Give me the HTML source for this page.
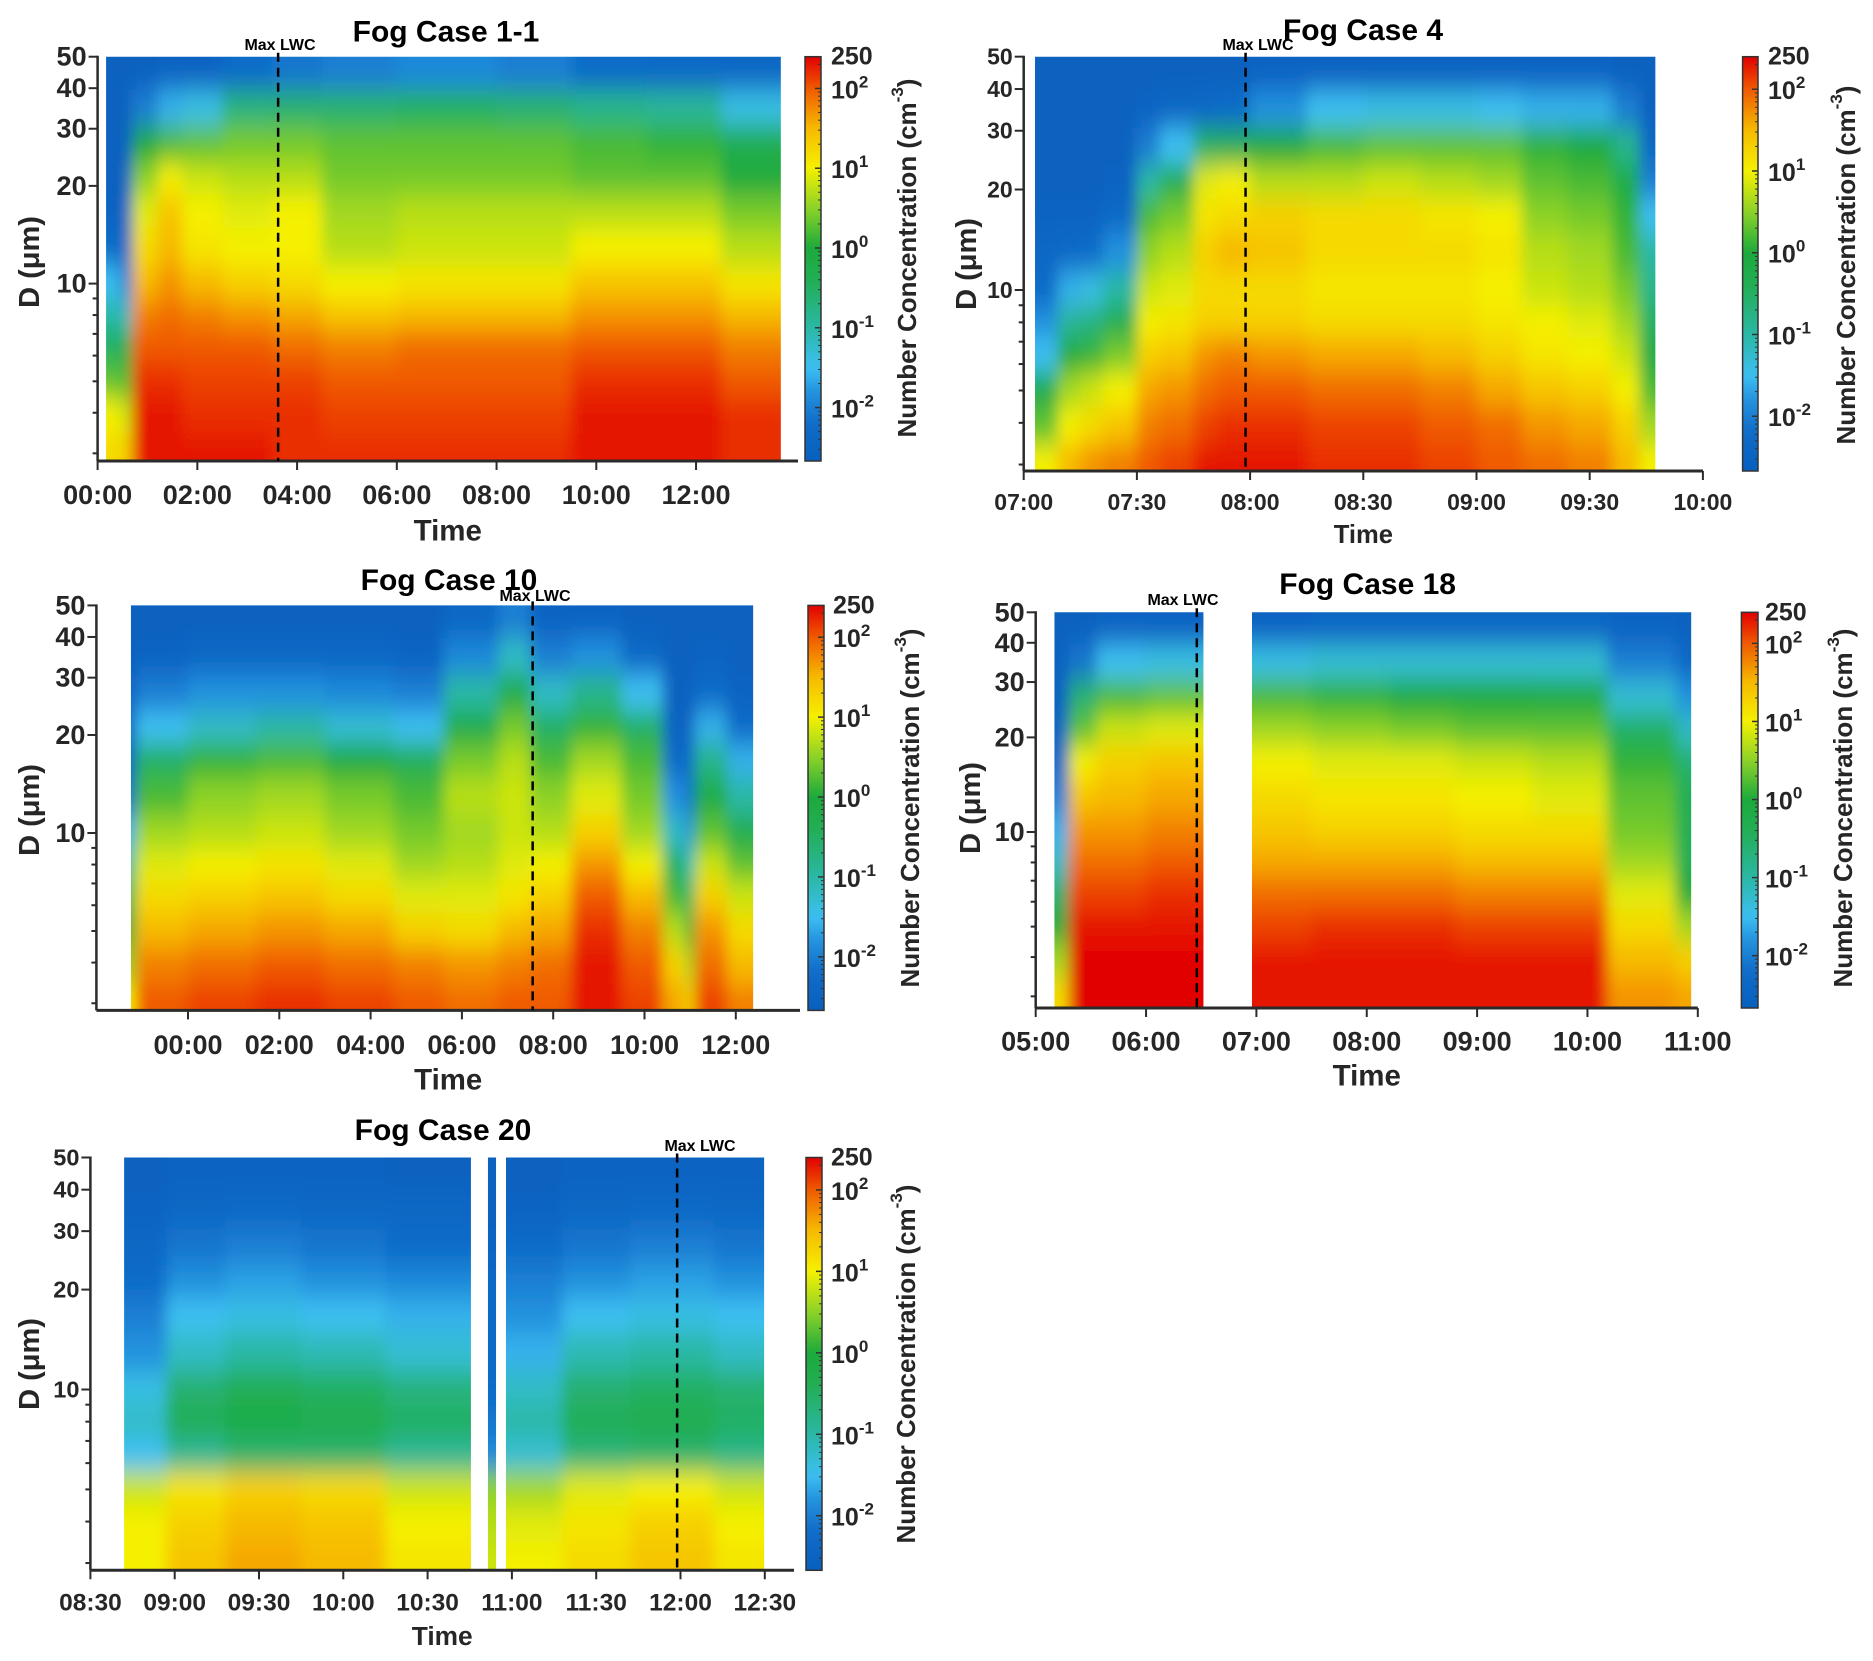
<!DOCTYPE html>
<html><head><meta charset="utf-8"><style>
html,body{margin:0;padding:0;background:#fff;}
svg{display:block;font-family:"Liberation Sans",Arial,sans-serif;}
</style></head><body>
<svg id="fig" width="1873" height="1661" viewBox="0 0 1873 1661" xmlns="http://www.w3.org/2000/svg">
<defs id="defs"></defs>
</svg>
<script>
// ---- Data ----
const dNodes = [3, 4, 5, 6.5, 8, 10, 13, 17, 21, 27, 35, 45];
const cbarTickLogs = [2, 1, 0, -1, -2];
const yTickMajor = [10, 20, 30, 40, 50];
const yTickMinor = [3, 4, 5, 6, 7, 8, 9];

const case1Times = [0.17, 0.45, 0.7, 1.2, 1.7, 2.5, 3.5, 4.5, 6, 8, 9.5, 11, 12.5, 13.7];
const case1Values = [
 [1.2,1.0,0.3,-0.5,-1.0,-1.5,-2.2,-2.5,-2.6,-2.6,-2.6,-2.6],
 [1.3,0.8,0.2,-0.3,-1.2,-2.0,-2.3,-2.5,-2.6,-2.6,-2.6,-2.6],
 [2.3,2.3,2.2,2.0,1.8,1.5,1.2,0.9,0.5,0.0,-2.0,-2.6],
 [2.3,2.3,2.2,2.0,1.9,1.7,1.5,1.4,1.0,0.2,-1.6,-2.5],
 [2.3,2.2,2.1,2.0,1.8,1.5,1.1,1.0,0.8,0.3,-1.4,-2.5],
 [2.3,2.2,2.1,2.0,1.7,1.3,1.0,0.9,0.7,0.4,-0.7,-2.2],
 [2.2,2.2,2.1,1.9,1.6,1.2,1.0,1.0,0.7,0.4,-0.6,-2.1],
 [2.2,2.1,2.0,1.8,1.4,1.0,0.7,0.6,0.4,0.3,-0.6,-2.0],
 [2.2,2.1,2.0,1.9,1.5,1.1,0.8,0.7,0.4,0.3,-0.5,-1.9],
 [2.2,2.1,2.0,1.9,1.5,1.1,0.8,0.7,0.4,0.3,-0.6,-2.0],
 [2.3,2.3,2.2,2.0,1.7,1.4,1.0,0.7,0.3,0.2,-0.8,-2.2],
 [2.3,2.3,2.2,2.0,1.7,1.4,1.0,0.7,0.3,0.1,-0.9,-2.3],
 [2.2,2.2,2.0,1.8,1.5,1.1,0.7,0.4,0.0,-0.3,-1.4,-2.4]
];
const case4Times = [7.05, 7.15, 7.25, 7.35, 7.5, 7.6, 7.75, 7.85, 8.0, 8.25, 8.5, 8.75, 9.0, 9.2, 9.4, 9.6, 9.72, 9.79];
const case4Values = [
 [1.0,0.3,-0.2,-1.5,-1.8,-2.2,-2.4,-2.5,-2.6,-2.6,-2.6,-2.6],
 [1.5,1.0,0.6,0.0,-0.9,-1.6,-2.3,-2.5,-2.6,-2.6,-2.6,-2.6],
 [1.7,1.2,0.8,0.1,-0.7,-1.4,-2.2,-2.5,-2.6,-2.6,-2.6,-2.6],
 [1.8,1.4,1.0,0.4,-0.3,-1.0,-1.8,-2.3,-2.5,-2.6,-2.6,-2.6],
 [2.0,1.8,1.6,1.3,1.0,0.8,0.5,0.2,-1.0,-2.0,-2.5,-2.6],
 [2.1,1.9,1.7,1.4,1.1,0.9,0.7,0.4,-0.3,-1.5,-2.4,-2.6],
 [2.3,2.1,1.9,1.7,1.3,1.2,1.3,1.1,0.9,-0.5,-2.3,-2.6],
 [2.3,2.2,2.0,1.8,1.3,1.2,1.5,1.2,1.0,-0.4,-2.2,-2.6],
 [2.3,2.2,2.0,1.7,1.3,1.2,1.4,1.3,0.7,0.0,-1.8,-2.5],
 [2.2,2.1,1.9,1.6,1.2,1.1,1.2,1.2,0.7,0.2,-1.5,-2.5],
 [2.2,2.1,1.9,1.6,1.2,1.1,1.2,1.2,0.8,0.3,-1.4,-2.5],
 [2.1,2.0,1.8,1.5,1.2,1.1,1.2,1.1,0.7,0.3,-1.4,-2.5],
 [2.0,1.9,1.6,1.3,1.1,1.0,1.1,1.0,0.6,0.3,-1.5,-2.5],
 [1.9,1.7,1.4,1.1,1.0,0.8,0.7,0.5,0.3,0.1,-1.6,-2.5],
 [1.8,1.6,1.3,1.0,0.9,0.7,0.6,0.4,0.2,0.0,-1.6,-2.5],
 [1.5,1.3,1.0,0.8,0.6,0.4,0.2,0.1,-0.2,-0.8,-2.0,-2.6],
 [1.0,0.6,0.2,-0.2,-0.5,-0.8,-1.0,-1.5,-2.0,-2.4,-2.6,-2.6]
];
const case10Times = [-1.25, -1.15, 0, 1.5, 3, 4.5, 5.6, 6.8, 7.5, 8.4, 9.5, 10.4, 10.9, 11.1, 11.8, 12.38];
const case10Values = [
 [1.0,0.5,0.0,-0.5,-1.0,-1.6,-2.2,-2.5,-2.6,-2.6,-2.6,-2.6],
 [2.0,1.8,1.5,1.2,0.9,0.6,0.2,-0.5,-1.5,-2.0,-2.5,-2.6],
 [2.1,1.9,1.6,1.3,1.0,0.7,0.5,0.1,-1.2,-1.8,-2.4,-2.6],
 [2.2,2.0,1.7,1.4,1.1,0.8,0.6,0.2,-1.0,-1.8,-2.4,-2.6],
 [2.1,1.9,1.6,1.2,0.9,0.6,0.4,0.0,-1.3,-1.9,-2.4,-2.6],
 [2.0,1.8,1.3,0.9,0.6,0.4,0.2,-0.4,-1.5,-2.0,-2.5,-2.6],
 [1.9,1.7,1.2,0.9,0.7,0.6,0.7,0.4,-0.2,-1.0,-1.9,-2.4],
 [2.0,1.8,1.5,1.1,0.9,0.8,0.8,0.7,0.4,-0.2,-1.2,-2.0],
 [2.0,1.9,1.6,1.3,1.0,0.7,0.5,0.2,-0.5,-1.2,-2.0,-2.5],
 [2.3,2.3,2.2,2.0,1.7,1.3,0.9,0.6,0.1,-0.8,-1.8,-2.5],
 [2.1,2.0,1.8,1.5,1.0,0.6,0.4,0.2,-0.5,-1.5,-2.3,-2.6],
 [1.6,1.3,0.7,0.2,-0.5,-1.2,-1.8,-2.2,-2.5,-2.6,-2.6,-2.6],
 [1.2,0.6,0.0,-0.6,-1.2,-1.8,-2.2,-2.4,-2.6,-2.6,-2.6,-2.6],
 [2.1,1.9,1.7,1.3,0.8,0.3,-0.2,-0.8,-1.6,-2.2,-2.5,-2.6],
 [1.8,1.5,1.2,0.8,0.3,-0.3,-1.0,-1.6,-2.2,-2.5,-2.6,-2.6]
];
const case18Times = [5.17, 5.3, 5.55, 6.0, 6.52, 6.96, 7.5, 8.2, 8.8, 9.5, 10.18, 10.8, 10.94];
const case18Values = [
 [1.2,0.6,0.0,-0.6,-1.2,-1.6,-2.0,-2.3,-2.5,-2.6,-2.6,-2.6],
 [2.4,2.4,2.3,2.1,1.9,1.7,1.4,1.0,0.3,-0.6,-2.1,-2.6],
 [2.4,2.4,2.3,2.1,1.9,1.7,1.5,1.3,0.8,0.2,-1.5,-2.5],
 [2.4,2.4,2.3,2.2,2.0,1.8,1.6,1.4,0.9,0.3,-1.4,-2.5],
 null,
 [2.3,2.3,2.1,1.9,1.6,1.4,1.2,1.0,0.6,0.2,-1.4,-2.5],
 [2.3,2.3,2.2,1.9,1.6,1.3,1.1,0.9,0.5,0.1,-1.3,-2.4],
 [2.3,2.3,2.2,1.9,1.6,1.3,1.1,0.9,0.4,0.0,-1.3,-2.4],
 [2.3,2.3,2.1,1.8,1.5,1.2,1.0,0.8,0.3,0.0,-1.3,-2.4],
 [2.3,2.3,2.1,1.8,1.5,1.2,0.9,0.7,0.3,-0.1,-1.3,-2.4],
 [1.7,1.5,1.2,0.9,0.6,0.4,0.3,0.1,-0.5,-1.3,-2.0,-2.5],
 [1.6,1.3,0.6,0.0,-0.4,-0.4,-0.4,-0.6,-1.2,-1.8,-2.3,-2.6]
];
const case20Times = [8.70, 8.95, 9.3, 9.75, 10.25, 10.757, 10.858, 10.906, 10.965, 11.3, 11.7, 12.2, 12.496];
const case20Values = [
 [1.0,1.0,0.8,-1.5,-1.2,-1.4,-1.8,-2.0,-2.2,-2.4,-2.5,-2.6],
 [1.4,1.3,1.1,-0.9,-0.4,-0.6,-1.2,-1.5,-1.8,-2.1,-2.4,-2.5],
 [1.6,1.5,1.3,-0.6,-0.2,-0.4,-1.0,-1.4,-1.7,-2.0,-2.3,-2.5],
 [1.5,1.4,1.2,-0.6,-0.3,-0.5,-1.1,-1.5,-1.8,-2.1,-2.4,-2.5],
 [1.1,1.0,0.8,-0.9,-0.5,-0.7,-1.3,-1.6,-1.9,-2.2,-2.4,-2.6],
 null,
 [0.8,0.7,0.5,-1.9,-2.1,-2.2,-2.3,-2.3,-2.3,-2.5,-2.6,-2.6],
 null,
 [1.0,0.9,0.6,-1.3,-1.0,-1.2,-1.6,-1.8,-2.0,-2.2,-2.5,-2.6],
 [1.2,1.1,0.9,-0.7,-0.4,-0.6,-1.1,-1.5,-1.8,-2.1,-2.4,-2.5],
 [1.4,1.3,1.0,-0.6,-0.3,-0.5,-1.0,-1.4,-1.7,-2.0,-2.3,-2.5],
 [1.1,1.0,0.8,-0.8,-0.5,-0.6,-1.2,-1.5,-1.8,-2.1,-2.4,-2.5]
];
const case1Ticks = [0,2,4,6,8,10,12];
const case4Ticks = [7,7.5,8,8.5,9,9.5,10];
const case10Ticks = [0,2,4,6,8,10,12];
const case18Ticks = [5,6,7,8,9,10,11];
const case20Ticks = [8.5,9,9.5,10,10.5,11,11.5,12,12.5];
const case1MaxLWC = 3.62, case4MaxLWC = 7.98, case10MaxLWC = 7.55, case18MaxLWC = 6.46, case20MaxLWC = 11.98;

// ---- Rendering ----
const NS = "http://www.w3.org/2000/svg";
const svg = document.getElementById('fig');
const defs = document.getElementById('defs');
const CMIN = -2.67, CMAX = Math.log10(250);
const stops = [[-2.67,[8,96,190]],[-2.2,[16,108,200]],[-1.8,[36,146,222]],[-1.5,[60,192,242]],[-1.0,[42,184,165]],[-0.4,[34,174,84]],[0,[28,170,60]],[0.5,[140,210,40]],[1.0,[245,240,0]],[1.5,[246,186,0]],[2.0,[240,90,0]],[2.4,[225,0,0]]];
function cmap(v){
  v=Math.max(CMIN,Math.min(2.4,v));
  for(let i=1;i<stops.length;i++){ if(v<=stops[i][0]){ const a=stops[i-1],b=stops[i]; const f=(v-a[0])/(b[0]-a[0]);
    return 'rgb('+a[1].map((c,k)=>Math.round(c+(b[1][k]-c)*f)).join(',')+')'; } }
  return 'rgb(225,0,0)';
}
function el(tag, attrs, parent){ const e=document.createElementNS(NS,tag); for(const k in attrs) e.setAttribute(k,attrs[k]); (parent||svg).appendChild(e); return e; }
function fmt(h){ let hh=Math.floor(h+1e-6), mm=Math.round((h-hh)*60); return String(hh).padStart(2,'0')+':'+String(mm).padStart(2,'0'); }

const panels = [
 {id:'case1', title:'Fog Case 1-1', times:case1Times, vals:case1Values, ticks:case1Ticks, lwc:case1MaxLWC,
  x0:97.6, h0:0, pxh:49.87, axR:798, top:56.7, bot:461, y10:283.6, dec:324.6,
  cb:[805,821], fs:27, yfs:27, tfs:29.5, tickY:495, timeY:531, titleX:446, titleY:32, lwcTX:280, lwcTY:50,
  ylx:30, yly:262, cblx:907, cbly:258, cbtx:831},
 {id:'case4', title:'Fog Case 4', times:case4Times, vals:case4Values, ticks:case4Ticks, lwc:case4MaxLWC,
  x0:1023.7, h0:7, pxh:226.4, axR:1703, top:56.7, bot:471, y10:290, dec:333.8,
  cb:[1742.6,1758], fs:23, yfs:23, tfs:25.6, tickY:502, timeY:535, titleX:1363, titleY:30.5, lwcTX:1258, lwcTY:50,
  ylx:967, yly:264, cblx:1846, cbly:265, cbtx:1768},
 {id:'case10', title:'Fog Case 10', times:case10Times, vals:case10Values, ticks:case10Ticks, lwc:case10MaxLWC,
  x0:188, h0:0, pxh:45.65, axR:800, axL:96.4, top:605.4, bot:1010.4, y10:833, dec:325.6,
  cb:[808,824], fs:27, yfs:27, tfs:29.4, tickY:1045, timeY:1080, titleX:449, titleY:580.5, lwcTX:535, lwcTY:601,
  ylx:30, yly:810, cblx:910, cbly:808, cbtx:833},
 {id:'case18', title:'Fog Case 18', times:case18Times, vals:case18Values, ticks:case18Ticks, lwc:case18MaxLWC,
  x0:1035.7, h0:5, pxh:110.35, axR:1697.8, top:612.3, bot:1008, y10:832, dec:314.3,
  cb:[1741.4,1758], fs:27, yfs:27, tfs:29.5, tickY:1041.5, timeY:1076, titleX:1367.6, titleY:584.6, lwcTX:1183, lwcTY:605,
  ylx:971, yly:808, cblx:1843, cbly:808, cbtx:1765},
 {id:'case20', title:'Fog Case 20', times:case20Times, vals:case20Values, ticks:case20Ticks, lwc:case20MaxLWC,
  x0:90.4, h0:8.5, pxh:168.6, axR:794, top:1157.5, bot:1570.3, y10:1389.5, dec:331.9,
  cb:[806,822], fs:24.5, yfs:23.5, tfs:26.3, tickY:1603, timeY:1636, titleX:443, titleY:1130.6, lwcTX:700, lwcTY:1151,
  ylx:30, yly:1364, cblx:906, cbly:1364, cbtx:831}
];

panels.forEach((p,pi)=>{
  const X = h => p.x0 + (h-p.h0)*p.pxh;
  const Y = d => p.y10 + (1-Math.log10(d))*p.dec;
  const axL = p.axL!==undefined ? p.axL : p.x0;
  const dBot = Math.pow(10, 1-(p.bot-p.y10)/p.dec);
  const g = el('g',{});
  
  

  const f = el('filter',{id:'blur'+pi, x:'-10%', y:'-10%', width:'120%', height:'120%'}, defs);
  el('feGaussianBlur',{stdDeviation:'7 13'}, f);

  let segs=[], cur=null;
  p.vals.forEach((col,i)=>{ if(col){ if(!cur){cur={s:i,e:i}; segs.push(cur);} else cur.e=i; } else cur=null; });
  const hm = el('g',{}, g);
  
  
  segs.forEach((sg,si)=>{
    const xa = X(p.times[sg.s]), xb = X(p.times[sg.e+1]);
    const cid = 'clip'+pi+'_'+si;
    const cp = el('clipPath',{id:cid}, defs);
    el('rect',{x:xa, y:p.top, width:xb-xa, height:p.bot-p.top}, cp);
    const cg = el('g',{'clip-path':'url(#'+cid+')'}, hm);
    const bg = el('g',{filter:'url(#blur'+pi+')'}, cg);
    for(let i=sg.s;i<=sg.e;i++){
      let c0 = X(p.times[i]), c1 = X(p.times[i+1]);
      if(i===sg.s) c0 -= 40; if(i===sg.e) c1 += 40;
      p.vals[i].forEach((v,j)=>{
        const dl = j===0 ? dBot : Math.sqrt(dNodes[j-1]*dNodes[j]);
        const du = j===dNodes.length-1 ? 50 : Math.sqrt(dNodes[j]*dNodes[j+1]);
        let y0 = Y(du), y1 = Y(dl);
        if(j===0) y1 += 60; if(j===dNodes.length-1) y0 -= 60;
        const r = el('rect',{x:c0.toFixed(2), y:y0.toFixed(2), width:(c1-c0+0.6).toFixed(2), height:(y1-y0+0.6).toFixed(2), fill:cmap(v)}, bg);
        
        
      });
    }
  });

  const ax = el('line',{x1:axL, y1:p.bot, x2:p.axR, y2:p.bot, stroke:'#2b2b2b', 'stroke-width':3}, g);
  
  
  const ay = el('line',{x1:axL, y1:p.top-1, x2:axL, y2:p.bot, stroke:'#2b2b2b', 'stroke-width':2.5}, g);
  
  
  p.ticks.forEach(h=>{
    el('line',{x1:X(h), y1:p.bot, x2:X(h), y2:p.bot+9, stroke:'#2b2b2b','stroke-width':2}, g);
    const t = el('text',{x:X(h), y:p.tickY, 'text-anchor':'middle', 'dominant-baseline':'central', 'font-size':p.fs, 'font-weight':'bold', fill:'#262626'}, g);
    t.textContent = fmt(h);
    
    
  });
  yTickMajor.forEach(d=>{
    el('line',{x1:axL-9, y1:Y(d), x2:axL, y2:Y(d), stroke:'#2b2b2b','stroke-width':2}, g);
    const t = el('text',{x:axL-11, y:Y(d), 'text-anchor':'end', 'dominant-baseline':'central', 'font-size':p.yfs, 'font-weight':'bold', fill:'#262626'}, g);
    t.textContent = d;
    
    
  });
  yTickMinor.forEach(d=>{ el('line',{x1:axL-5, y1:Y(d), x2:axL, y2:Y(d), stroke:'#2b2b2b','stroke-width':2}, g); });

  const tt = el('text',{x:p.titleX, y:p.titleY, 'text-anchor':'middle','dominant-baseline':'central','font-size':30,'font-weight':'bold',fill:'#000'}, g);
  tt.textContent = p.title;
  
  
  const xl = el('text',{x:(axL+p.axR)/2, y:p.timeY, 'text-anchor':'middle','dominant-baseline':'central','font-size':p.tfs,'font-weight':'bold',fill:'#262626'}, g);
  xl.textContent = 'Time';
  
  
  const yl = el('text',{x:p.ylx, y:p.yly, 'text-anchor':'middle','dominant-baseline':'central','font-size':29,'font-weight':'bold',fill:'#262626', transform:'rotate(-90 '+p.ylx+' '+p.yly+')'}, g);
  yl.textContent = 'D (μm)';
  
  

  const lx = X(p.lwc);
  const dl = el('line',{x1:lx, y1:p.top-4, x2:lx, y2:p.bot, stroke:'#000','stroke-width':2.5,'stroke-dasharray':'9 6'}, g);
  
  
  const lt = el('text',{x:p.lwcTX, y:p.lwcTY, 'text-anchor':'middle','font-size':16,'font-weight':'bold',fill:'#000'}, g);
  lt.textContent = 'Max LWC';
  
  

  const gid = 'cbg'+pi;
  const lg = el('linearGradient',{id:gid, x1:0, y1:1, x2:0, y2:0}, defs);
  for(let k=0;k<=40;k++){ const v = CMIN + (CMAX-CMIN)*k/40; el('stop',{offset:(k/40), 'stop-color':cmap(v)}, lg); }
  const [cx0,cx1] = p.cb;
  const cb = el('rect',{x:cx0, y:p.top, width:cx1-cx0, height:p.bot-p.top, fill:'url(#'+gid+')', stroke:'#333','stroke-width':1.5}, g);
  
  
  const CY = v => p.top + (CMAX-v)/(CMAX-CMIN)*(p.bot-p.top);
  for(let dcd=-3; dcd<=2; dcd++){ for(let m=2;m<=9;m++){ const v=dcd+Math.log10(m); if(v>CMIN && v<CMAX) el('line',{x1:cx1-3, y1:CY(v), x2:cx1, y2:CY(v), stroke:'#333','stroke-width':1}, g); } }
  cbarTickLogs.forEach(v=>{
    el('line',{x1:cx1-6, y1:CY(v), x2:cx1, y2:CY(v), stroke:'#333','stroke-width':1.5}, g);
    const t = el('text',{x:p.cbtx, y:CY(v)+10, 'font-size':25,'font-weight':'bold',fill:'#262626'}, g);
    t.textContent = '10';
    const s = el('tspan',{dy:-11,'font-size':17}, t);
    s.textContent = String(v);
    
    
  });
  const tmax = el('text',{x:p.cbtx, y:p.top, 'dominant-baseline':'central','font-size':25,'font-weight':'bold',fill:'#262626'}, g);
  tmax.textContent = '250';
  
  
  const cl = el('text',{x:p.cblx, y:p.cbly, 'text-anchor':'middle','dominant-baseline':'central','font-size':26,'font-weight':'bold',fill:'#262626', transform:'rotate(-90 '+p.cblx+' '+p.cbly+')'}, g);
  cl.textContent = 'Number Concentration (cm';
  const sp = el('tspan',{dy:-10,'font-size':17}, cl); sp.textContent='-3';
  const sp2 = el('tspan',{dy:10}, cl); sp2.textContent=')';
  
  
});
</script>
</body></html>
